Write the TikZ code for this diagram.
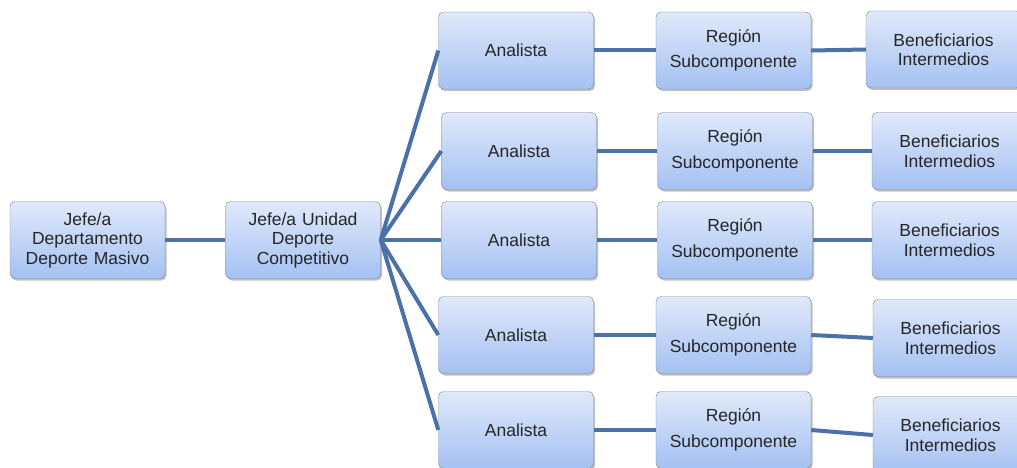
\documentclass[tikz,border=0pt]{standalone}
\usepackage{fontspec}
\setmainfont{Liberation Sans}
\usetikzlibrary{shadows}

\definecolor{boxtop}{HTML}{E0E9FA}
\definecolor{boxbottom}{HTML}{A4C1F2}
\definecolor{boxline}{HTML}{7F858E}
\definecolor{linkblue}{HTML}{4A72A8}

\begin{document}
\begin{tikzpicture}[x=1pt,y=-1pt,
  unit/.style={draw=boxline, rounded corners=5pt, top color=boxtop, bottom color=boxbottom,
    minimum width=155pt, minimum height=77pt, inner sep=2pt, text width=151pt, align=center,
    font=\fontsize{17.5}{19.5}\selectfont, text=black!85,
    drop shadow={shadow xshift=1.5pt, shadow yshift=-2pt, fill=black, opacity=0.25}},
  link/.style={draw=linkblue, line width=4pt}]
  \useasboundingbox (0,0) rectangle (1017,468);

  \node [unit] (j1) at (87.5,240) {Jefe/a\\Departamento\\Deporte Masivo};
  \node [unit] (j2) at (303,240) {Jefe/a Unidad\\Deporte\\Competitivo};

  \node [unit] (a1) at (516,50.5) {Analista};
  \node [unit] (a2) at (519,151) {Analista};
  \node [unit] (a3) at (519,240) {Analista};
  \node [unit] (a4) at (516,335) {Analista};
  \node [unit] (a5) at (516,430) {Analista};

  \node [unit] (r1) at (733.5,50.5) {Región\\[6pt]Subcomponente};
  \node [unit] (r2) at (735,151) {Región\\[6pt]Subcomponente};
  \node [unit] (r3) at (735,240) {Región\\[6pt]Subcomponente};
  \node [unit] (r4) at (733.5,335) {Región\\[6pt]Subcomponente};
  \node [unit] (r5) at (733.5,430) {Región\\[6pt]Subcomponente};

  \node [unit] (b1) at (943.5,49.5) {Beneficiarios\\Intermedios};
  \node [unit] (b2) at (949.5,151) {Beneficiarios\\Intermedios};
  \node [unit] (b3) at (949.5,240) {Beneficiarios\\Intermedios};
  \node [unit] (b4) at (950.5,338) {Beneficiarios\\Intermedios};
  \node [unit] (b5) at (950.5,435) {Beneficiarios\\Intermedios};

  \draw [link] (j1.east) -- (j2.west);
  \draw [link] (j2.east) -- (a1.west);
  \draw [link] (j2.east) -- (a2.west);
  \draw [link] (j2.east) -- (a3.west);
  \draw [link] (j2.east) -- (a4.west);
  \draw [link] (j2.east) -- (a5.west);

  \draw [link] (a1.east) -- (r1.west);
  \draw [link] (a2.east) -- (r2.west);
  \draw [link] (a3.east) -- (r3.west);
  \draw [link] (a4.east) -- (r4.west);
  \draw [link] (a5.east) -- (r5.west);

  \draw [link] (r1.east) -- (b1.west);
  \draw [link] (r2.east) -- (b2.west);
  \draw [link] (r3.east) -- (b3.west);
  \draw [link] (r4.east) -- (b4.west);
  \draw [link] (r5.east) -- (b5.west);
\end{tikzpicture}
\end{document}
